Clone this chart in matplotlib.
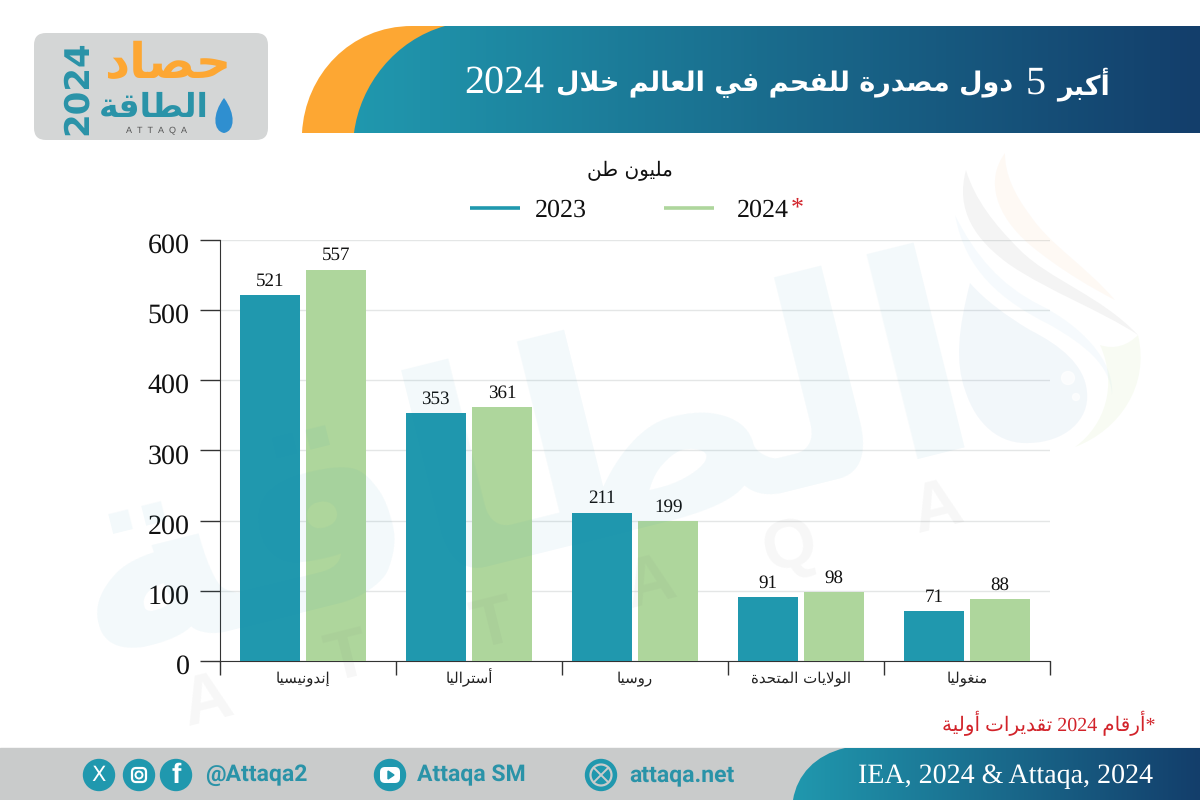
import re
import numpy as np
import matplotlib
matplotlib.use('Agg')
import matplotlib.pyplot as plt
from matplotlib.path import Path
from matplotlib.patches import PathPatch, Circle, FancyBboxPatch, Rectangle, Polygon
from matplotlib.transforms import ScaledTranslation

plt.rcParams['text.hinting'] = 'no_hinting'
plt.rcParams['text.hinting_factor'] = 1

title_parts = ['أكبر', '5', 'دول مصدرة للفحم في العالم خلال', '2024']
unit_label = 'مليون طن'
countries = ['إندونيسيا', 'أستراليا', 'روسيا', 'الولايات المتحدة', 'منغوليا']
values_2023 = [521, 353, 211, 91, 71]
values_2024 = [557, 361, 199, 98, 88]
yticks = [0, 100, 200, 300, 400, 500, 600]
note = '*أرقام 2024 تقديرات أولية'
source = 'IEA, 2024 & Attaqa, 2024'

TEAL = '#2098AE'
GREEN = '#AED69C'
NAVY = '#133E6B'
ORANGE = '#FDA733'
SERIF = 'Liberation Serif'
MIXED = ['Liberation Serif', 'DejaVu Sans']

# matplotlib does no arabic shaping, so pick the presentation forms by hand
dual = 'ئبتثجحخسشصضطظعغفقكلمنهي'
dual_base = [0xFE89, 0xFE8F, 0xFE95, 0xFE99, 0xFE9D, 0xFEA1, 0xFEA5, 0xFEB1, 0xFEB5, 0xFEB9, 0xFEBD,
             0xFEC1, 0xFEC5, 0xFEC9, 0xFECD, 0xFED1, 0xFED5, 0xFED9, 0xFEDD, 0xFEE1, 0xFEE5, 0xFEE9, 0xFEF1]
right = 'آأؤإاةدذرزوى'
right_base = [0xFE81, 0xFE83, 0xFE85, 0xFE87, 0xFE8D, 0xFE93, 0xFEA9, 0xFEAB, 0xFEAD, 0xFEAF, 0xFEED, 0xFEEF]
forms = {c: b for c, b in zip(dual + right, dual_base + right_base)}
lam_alef = {'آ': 0xFEF5, 'أ': 0xFEF7, 'إ': 0xFEF9, 'ا': 0xFEFB}


def ar(text):
    out = ''
    i = 0
    prev_joins = False
    while i < len(text):
        c = text[i]
        if c not in forms:
            out += c
            prev_joins = False
            i += 1
            continue
        if c == 'ل' and i + 1 < len(text) and text[i + 1] in lam_alef:
            out += chr(lam_alef[text[i + 1]] + (1 if prev_joins else 0))
            prev_joins = False
            i += 2
            continue
        next_ar = i + 1 < len(text) and text[i + 1] in forms
        joins_next = c in dual and next_ar
        if prev_joins and joins_next:
            off = 3
        elif joins_next:
            off = 2
        elif prev_joins:
            off = 1
        else:
            off = 0
        out += chr(forms[c] + off)
        prev_joins = c in dual
        i += 1
    tokens = re.split(r'([0-9A-Za-z.,]+)', out)
    tokens = [t if re.fullmatch(r'[0-9A-Za-z.,]+', t) else t[::-1] for t in tokens]
    return ''.join(tokens[::-1])


W, H = 1200, 800
fig = plt.figure(figsize=(12, 8), dpi=100, facecolor='white')

# chart axes, placed on the pixel box of the reference
ax = fig.add_axes([220 / W, 1 - 661 / H, 830 / W, 421.5 / H])
ax.patch.set_visible(False)
x = np.arange(len(countries))
bars_a = ax.bar(x - 0.2, values_2023, width=0.362, color=TEAL, zorder=3)
bars_b = ax.bar(x + 0.2, values_2024, width=0.362, color=GREEN, zorder=3)
ax.bar_label(bars_a, padding=4, fontsize=13.5, family=SERIF, color='#111111')
ax.bar_label(bars_b, padding=4, fontsize=13.5, family=SERIF, color='#111111')
ax.set_xlim(-0.5, 4.5)
ax.set_ylim(0, 600)
ax.set_yticks(yticks)
ax.set_yticklabels([str(v) for v in yticks], family=SERIF, fontsize=20, color='#111111')
ax.tick_params(axis='y', length=14.5, width=1, color='#333333', pad=7.5)
for lab in ax.get_yticklabels():
    lab.set_transform(lab.get_transform() + ScaledTranslation(0, -2.5 / 72, fig.dpi_scale_trans))
ax.set_xticks([-0.5, 0.56, 1.56, 2.56, 3.5, 4.5])
ax.set_xticklabels([])
ax.tick_params(axis='x', length=10, width=1, color='#333333')
ax.set_xticks(x, minor=True)
ax.set_xticklabels([ar(c) for c in countries], minor=True, family='DejaVu Sans', fontsize=11,
                   color='#222222', va='baseline')
ax.tick_params(axis='x', which='minor', length=0, pad=16)
ax.grid(axis='y', color='#E4E6E6', linewidth=1, zorder=0)
ax.set_axisbelow(True)
ax.spines['top'].set_visible(False)
ax.spines['right'].set_visible(False)
ax.spines['left'].set_color('#333333')
ax.spines['bottom'].set_color('#333333')

# overlay in pixel coordinates for header, footer, logo and watermark
deco = fig.add_axes([0, 0, 1, 1], zorder=5)
deco.set_xlim(0, W)
deco.set_ylim(H, 0)
deco.axis('off')
deco.patch.set_visible(False)


def blob(verts, color, alpha=1.0, z=1):
    codes = [Path.MOVETO]
    pts = [verts[0]]
    for seg in verts[1:]:
        if len(seg) == 6:
            pts += [seg[:2], seg[2:4], seg[4:]]
            codes += [Path.CURVE4] * 3
        else:
            pts.append(seg)
            codes.append(Path.LINETO)
    pts.append(verts[0])
    codes.append(Path.CLOSEPOLY)
    p = PathPatch(Path(pts, codes), facecolor=color, edgecolor='none', alpha=alpha, zorder=z)
    deco.add_patch(p)
    return p


def gradient(x0, x1, y0, y1, clip):
    c0 = np.array(matplotlib.colors.to_rgb(TEAL))
    c1 = np.array(matplotlib.colors.to_rgb(NAVY))
    t = np.linspace(0, 1, 256)[None, :, None]
    im = deco.imshow(c0 + (c1 - c0) * t, extent=[x0, x1, y1, y0], aspect='auto', zorder=4)
    im.set_clip_path(clip)


# watermark
wm = dict(color='#1F8FB5', alpha=0.055, zorder=1, ha='center', va='center')
deco.text(520, 475, ar('الطاقة'), family='DejaVu Sans', weight='bold', fontsize=200, rotation=14,
          rotation_mode='anchor', **wm)
for ch, px, py in zip('ATTAQA', [207, 347, 493, 650, 790, 937], [703, 660, 627, 585, 548, 510]):
    deco.text(px, py, ch, color='#777777', alpha=0.06, zorder=1, fontsize=50, weight='bold', family='Liberation Sans',
              rotation=14, ha='center', va='center')
blob([(970, 283), (958, 330, 955, 362, 965, 390), (976, 425, 1000, 445, 1030, 443),
      (1065, 442, 1090, 420, 1087, 392), (1085, 365, 1060, 345, 1030, 330), (1005, 315, 985, 300, 970, 283)],
     '#2F7FB8', 0.06)
blob([(966, 170), (955, 210, 975, 240, 1010, 265), (1050, 292, 1100, 310, 1138, 335),
      (1100, 295, 1050, 280, 1020, 250), (995, 225, 975, 200, 966, 170)], '#777777', 0.08)
blob([(1005, 153), (985, 180, 995, 215, 1030, 245), (1060, 270, 1095, 290, 1115, 300),
      (1085, 265, 1050, 245, 1030, 215), (1015, 195, 1005, 175, 1005, 153)], '#F8B070', 0.07)
blob([(955, 215), (965, 270, 1000, 300, 1050, 325), (1085, 345, 1110, 365, 1112, 395),
      (1115, 360, 1080, 325, 1040, 305), (1000, 285, 975, 255, 955, 215)], '#58B0E0', 0.05)
blob([(1138, 335), (1150, 385, 1120, 430, 1075, 447), (1105, 425, 1118, 385, 1100, 345), (1115, 350, 1128, 345, 1138, 335)],
     '#BFE08A', 0.1)
deco.add_patch(Circle((1068, 378), 6.5, color='white', alpha=0.7, zorder=2))
deco.add_patch(Circle((1076, 397), 3.5, color='white', alpha=0.7, zorder=2))

# header
blob([(302, 133), (305, 75, 350, 26, 412, 26), (470, 26), (470, 133)], ORANGE, z=3)
head = blob([(354, 133), (360, 85, 395, 40, 445, 26), (1200, 26), (1200, 133)], 'none', z=3)
gradient(354, 1200, 26, 133, head)

renderer = fig.canvas.get_renderer()
cur = 1110
styles = [dict(family='DejaVu Sans', weight='bold', fontsize=19.5), dict(family=SERIF, fontsize=29),
          dict(family='DejaVu Sans', weight='bold', fontsize=19.5), dict(family=SERIF, fontsize=29)]
for part, st in zip(title_parts, styles):
    t = deco.text(cur, 84, ar(part), color='white', ha='right', va='center', zorder=6, **st)
    cur -= t.get_window_extent(renderer).width + 12

# unit and legend
deco.text(630, 171, ar(unit_label), family='DejaVu Sans', fontsize=14.5, color='#111111', ha='center', va='center', zorder=6)
deco.plot([470, 520], [208, 208], color=TEAL, lw=2.6, solid_capstyle='butt', zorder=6)
deco.plot([664, 714], [208, 208], color=GREEN, lw=2.6, solid_capstyle='butt', zorder=6)
deco.text(561, 210, '2023', family=SERIF, fontsize=19, color='#111111', ha='center', va='center', zorder=6)
deco.text(737, 210, '2024', family=SERIF, fontsize=19, color='#111111', ha='left', va='center', zorder=6)
deco.text(791, 208, '*', family=SERIF, fontsize=19, color='#D2232A', ha='left', va='center', zorder=6)

# footnote
deco.text(1155, 723, ar(note), family=MIXED, fontsize=14.5, color='#D2232A', ha='right', va='center', zorder=6)

# footer
deco.add_patch(Rectangle((0, 748), W, 52, color='#C9CBCB', zorder=3))
foot = blob([(793, 800), (797, 775, 815, 755, 845, 748), (1200, 748), (1200, 800)], 'none', z=3)
gradient(793, 1200, 748, 800, foot)
deco.text(1153, 776, source, family=SERIF, fontsize=20.2, color='white', ha='right', va='center', zorder=6)
for cx in [99, 139, 176, 390, 601]:
    deco.add_patch(Circle((cx, 775), 15.5, color=TEAL, zorder=5))
deco.text(99, 775, 'X', color='white', fontsize=15, family='DejaVu Sans', ha='center', va='center', zorder=6)
deco.add_patch(FancyBboxPatch((132, 768), 14, 14, boxstyle='round,pad=0,rounding_size=4', fc='none', ec='white', lw=1.6, zorder=6))
deco.add_patch(Circle((139, 775), 3.5, fc='none', ec='white', lw=1.4, zorder=6))
deco.text(176, 776, 'f', color='white', fontsize=20, weight='bold', family='Liberation Sans', ha='center', va='center', zorder=6)
deco.add_patch(FancyBboxPatch((380, 767), 20, 16, boxstyle='round,pad=0,rounding_size=5', fc='white', ec='none', zorder=6))
deco.add_patch(Polygon([(388, 771), (388, 779), (394, 775)], color=TEAL, zorder=7))
deco.add_patch(Circle((601, 775), 10.5, fc='none', ec='#C9CBCB', lw=1.6, zorder=6))
deco.plot([594, 608], [768, 782], color='#C9CBCB', lw=1.4, zorder=6)
deco.plot([594, 608], [782, 768], color='#C9CBCB', lw=1.4, zorder=6)
foot_font = dict(family='Roboto', weight='bold', fontsize=16.6, color='#2A93A8', ha='left', va='center', zorder=6)
deco.text(205, 775, '@Attaqa2', **foot_font)
deco.text(417, 775, 'Attaqa SM', **foot_font)
deco.text(629, 775, 'attaqa.net', **foot_font)

# logo
deco.add_patch(FancyBboxPatch((34, 33), 234, 107, boxstyle='round,pad=0,rounding_size=12', fc='#D4D6D6', ec='none', zorder=3))
deco.text(77, 88, '2024', family='DejaVu Sans', weight='bold', fontsize=24.5, color='#2A93A8', rotation=90,
          ha='center', va='center', zorder=6)
deco.text(168, 64, ar('حصاد'), family='DejaVu Sans', weight='bold', fontsize=35, color=ORANGE, ha='center', va='center', zorder=6)
deco.text(154, 108, ar('الطاقة'), family='DejaVu Sans', weight='bold', fontsize=24, color='#2A93A8', ha='center', va='center', zorder=6)
blob([(224, 98), (212, 114, 213, 131, 224, 133), (235, 131, 236, 114, 224, 98)], '#2F8FD0', z=6)
deco.text(157, 130, 'A  T  T  A  Q  A', family='Liberation Sans', fontsize=6.5, color='#555555', ha='center', va='center', zorder=6)

fig.savefig('out.png', dpi=100)
